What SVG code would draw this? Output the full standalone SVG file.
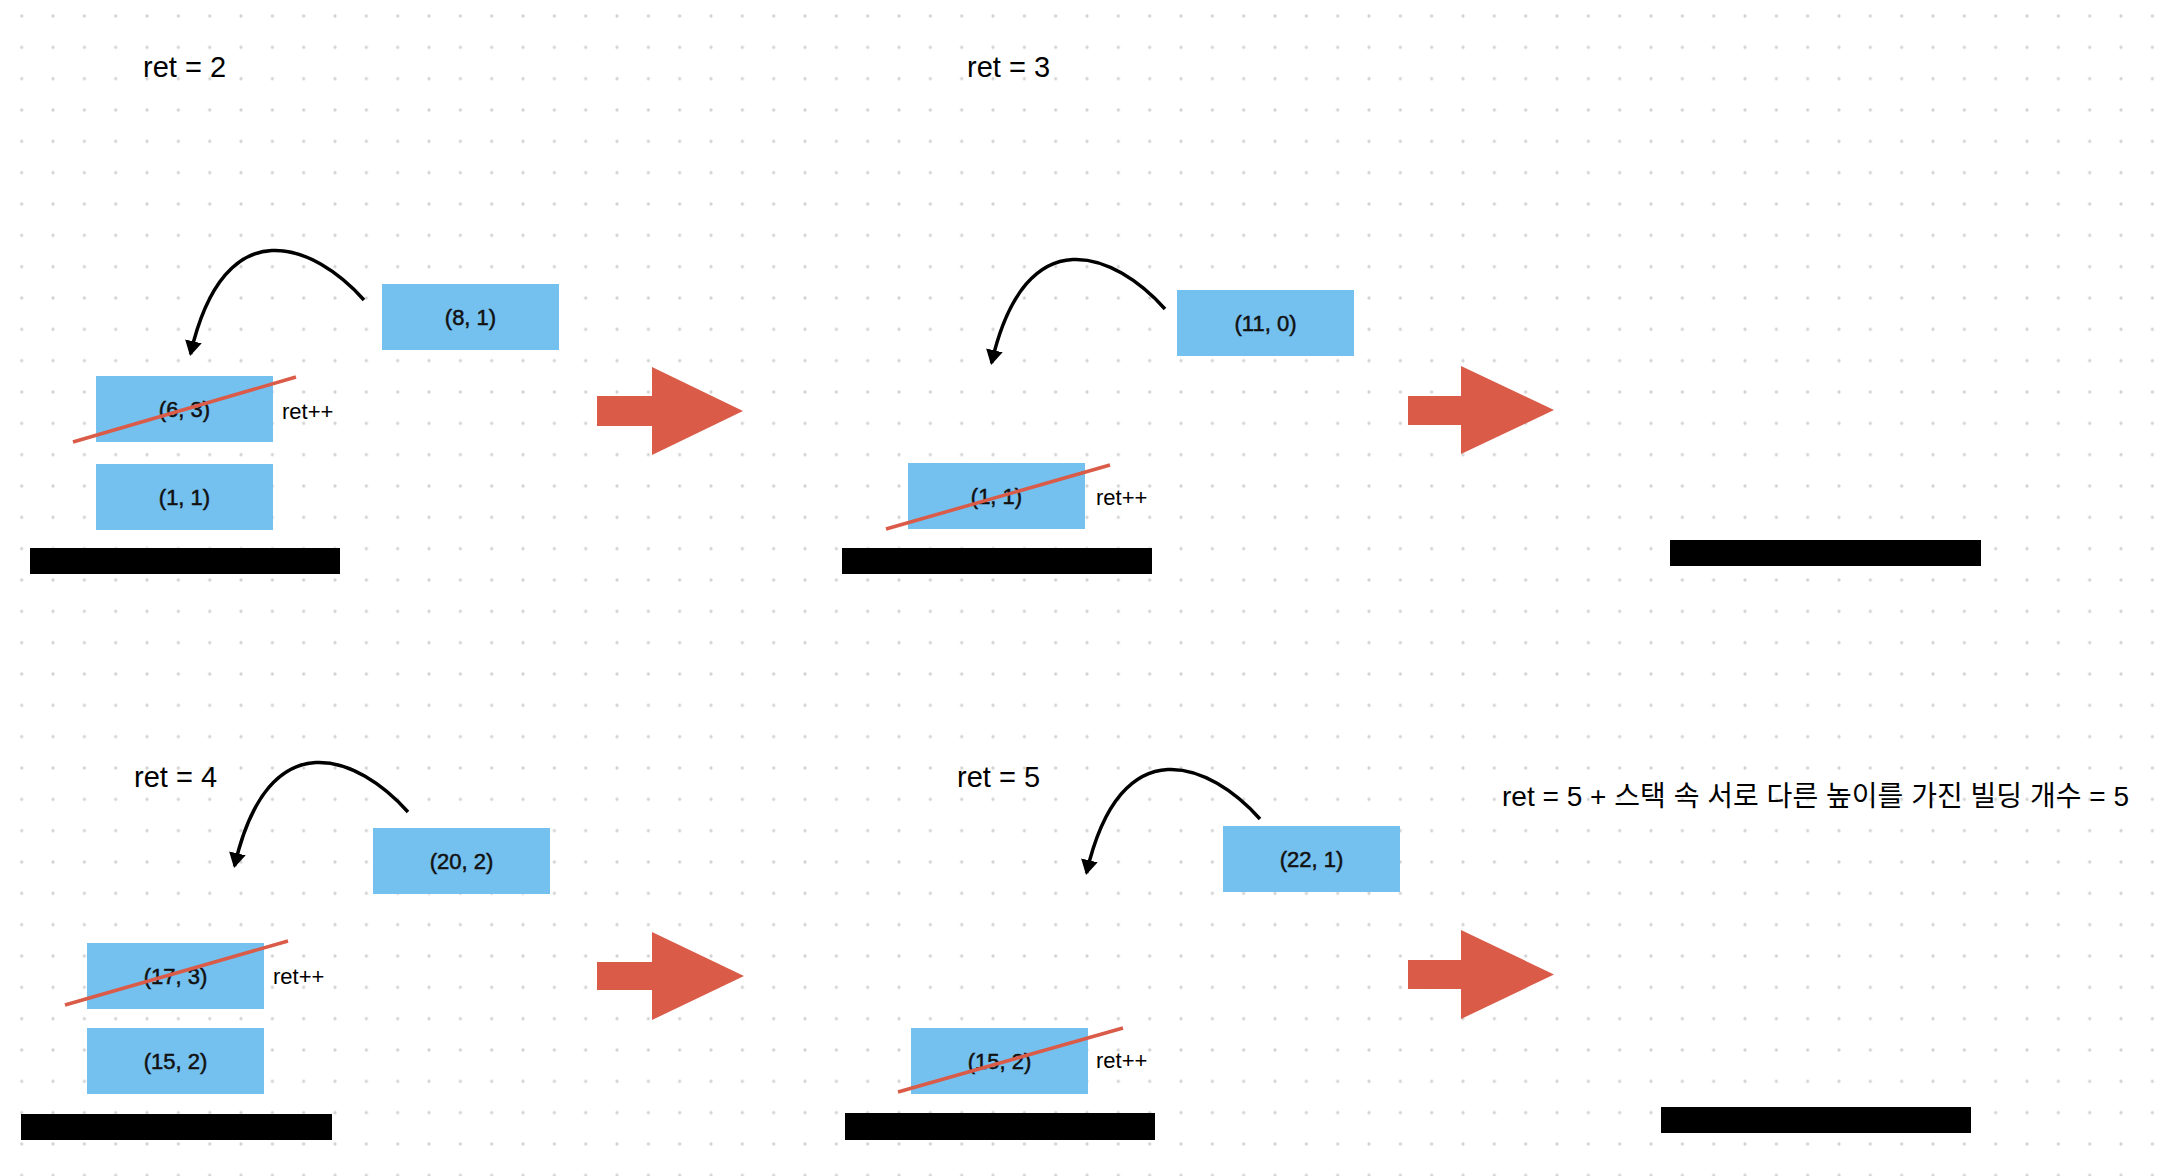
<svg xmlns="http://www.w3.org/2000/svg" width="2170" height="1176" viewBox="0 0 2170 1176">
  <style>
    .box { fill: #74C0EF; }
    .lbl { font-family: "Liberation Sans", Arial, sans-serif; font-size: 22px; fill: #111; stroke: #111; stroke-width: 0.5; text-anchor: middle; }
    .ret { font-family: "Liberation Sans", Arial, sans-serif; font-size: 29px; fill: #000; }
    .inc { font-family: "Liberation Sans", Arial, sans-serif; font-size: 22px; fill: #000; }
    .kr { font-family: "Liberation Sans", "Noto Sans CJK KR", sans-serif; font-size: 28px; fill: #000; }
    .bar { fill: #000; }
    .strike { stroke: #D95B48; stroke-width: 3.5; fill: none; }
    .big { fill: #D95B48; }
    .curve { stroke: #000; stroke-width: 3.5; fill: none; marker-end: url(#ah); }
  </style>
  <defs>
    <pattern id="dots" patternUnits="userSpaceOnUse" x="6.03" y="0.33" width="31.333" height="31.333">
      <circle cx="15.667" cy="15.667" r="1.6" fill="#d2d2d2"/>
    </pattern>
    <marker id="ah" viewBox="0 0 15 17" refX="13" refY="8.5" markerWidth="15" markerHeight="17" markerUnits="userSpaceOnUse" orient="auto">
      <path d="M0,0 L15,8.5 L0,17 z" fill="#000"/>
    </marker>
  </defs>
  <rect width="2170" height="1176" fill="#fff"/>
  <rect width="2170" height="1176" fill="url(#dots)"/>

  <!-- Panel 1 -->
  <g id="p1">
    <text class="ret" x="143" y="77">ret = 2</text>
    <g id="n-8-1"><rect class="box" x="382" y="284" width="177" height="66"/><text class="lbl" x="470.5" y="325">(8, 1)</text></g>
    <g id="n-6-3"><rect class="box" x="96" y="376" width="177" height="66"/><text class="lbl" x="184.5" y="417">(6, 3)</text></g>
    <line class="strike" x1="73" y1="442" x2="296" y2="377"/>
    <text class="inc" x="282" y="419">ret++</text>
    <g id="n-1-1a"><rect class="box" x="96" y="464" width="177" height="66"/><text class="lbl" x="184.5" y="505">(1, 1)</text></g>
    <rect id="base1" class="bar" x="30" y="548" width="310" height="26"/>
  </g>

  <!-- Panel 2 -->
  <g id="p2">
    <text class="ret" x="967" y="77">ret = 3</text>
    <g id="n-11-0"><rect class="box" x="1177" y="290" width="177" height="66"/><text class="lbl" x="1265.5" y="331">(11, 0)</text></g>
    <g id="n-1-1b"><rect class="box" x="908" y="463" width="177" height="66"/><text class="lbl" x="996.5" y="504">(1, 1)</text></g>
    <line class="strike" x1="886" y1="529" x2="1110" y2="465"/>
    <text class="inc" x="1096" y="505">ret++</text>
    <rect id="base2" class="bar" x="842" y="548" width="310" height="26"/>
  </g>

  <!-- Panel 3 -->
  <g id="p3">
    <rect id="base3" class="bar" x="1670" y="540" width="311" height="26"/>
  </g>

  <!-- Panel 4 -->
  <g id="p4">
    <text class="ret" x="134" y="787">ret = 4</text>
    <g id="n-20-2"><rect class="box" x="373" y="828" width="177" height="66"/><text class="lbl" x="461.5" y="869">(20, 2)</text></g>
    <g id="n-17-3"><rect class="box" x="87" y="943" width="177" height="66"/><text class="lbl" x="175.5" y="984">(17, 3)</text></g>
    <line class="strike" x1="65" y1="1005" x2="288" y2="941"/>
    <text class="inc" x="273" y="984">ret++</text>
    <g id="n-15-2a"><rect class="box" x="87" y="1028" width="177" height="66"/><text class="lbl" x="175.5" y="1069">(15, 2)</text></g>
    <rect id="base4" class="bar" x="21" y="1114" width="311" height="26"/>
  </g>

  <!-- Panel 5 -->
  <g id="p5">
    <text class="ret" x="957" y="787">ret = 5</text>
    <g id="n-22-1"><rect class="box" x="1223" y="826" width="177" height="66"/><text class="lbl" x="1311.5" y="867">(22, 1)</text></g>
    <g id="n-15-2b"><rect class="box" x="911" y="1028" width="177" height="66"/><text class="lbl" x="999.5" y="1069">(15, 2)</text></g>
    <line class="strike" x1="898" y1="1092" x2="1123" y2="1028"/>
    <text class="inc" x="1096" y="1068">ret++</text>
    <rect id="base5" class="bar" x="845" y="1113" width="310" height="27"/>
  </g>

  <!-- Panel 6 -->
  <g id="p6">
    <text class="kr" x="1502" y="806" textLength="627" lengthAdjust="spacing">ret = 5 + 스택 속 서로 다른 높이를 가진 빌딩 개수 = 5</text>
    <rect id="base6" class="bar" x="1661" y="1107" width="310" height="26"/>
  </g>

  <!-- Connectors -->
  <g id="connectors">
    <path class="curve" d="M364,300 C315,245 225,205 190.5,354"/>
    <path class="curve" d="M1165,309 C1116,254 1026,214 991.5,363"/>
    <path class="curve" d="M408,812 C359,757 269,717 234.5,866"/>
    <path class="curve" d="M1260,819 C1211,764 1121,724 1086.5,873"/>
    <polygon class="big" points="597,396 652,396 652,367 743,411 652,455 652,426 597,426"/>
    <polygon class="big" points="1408,396 1461,396 1461,366 1554,410 1461,454 1461,425 1408,425"/>
    <polygon class="big" points="597,962 652,962 652,932 744,976 652,1020 652,990 597,990"/>
    <polygon class="big" points="1408,960 1461,960 1461,930 1554,974.5 1461,1019 1461,989 1408,989"/>
  </g>
</svg>
